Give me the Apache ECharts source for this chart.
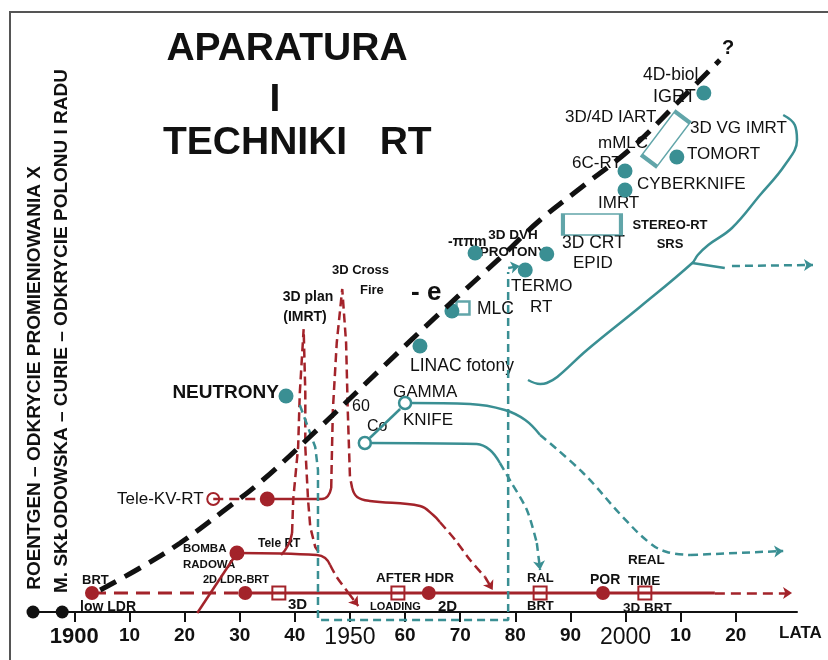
<!DOCTYPE html>
<html>
<head>
<meta charset="utf-8">
<script src="https://cdn.jsdelivr.net/npm/echarts@6/dist/echarts.min.js"></script>
<style>
  html, body { margin: 0; background: #fff; }
  #chart { width: 828px; height: 660px; }
</style>
</head>
<body>
<div id="chart"></div>
<script>
const RED = '#a3232a';
const TEAL = '#3a8f93';
const INK = '#111';
const FONT = '"Liberation Sans", Arial, sans-serif';

// x = year, y = height above the time axis (arbitrary units)
const tickYears = [1900, 1910, 1920, 1930, 1940, 1950, 1960, 1970, 1980, 1990, 2000, 2010, 2020];
const tickNames = ['1900', '10', '20', '30', '40', '1950', '60', '70', '80', '90', '2000', '10', '20'];

const discoveries = [[1892.5, 0], [1897.8, 0]];

const trend = [[1904.7, 22], [1911.9, 44], [1919.2, 69], [1926.8, 100], [1934.2, 132], [1944.6, 185],
  [1955.4, 242], [1966.9, 302], [1977.8, 357], [1984.5, 392], [1992.3, 426], [2001.3, 465],
  [2009.9, 512], [2017.1, 552]];

// teal: physics / hardware
const tealDotNames = ['NEUTRONY', 'LINAC fotony', 'MLC', '-ππm', 'PROTONY', 'TERMO RT', '6C-RT', 'CYBERKNIFE', 'TOMORT', 'IGRT'];
const tealDots = [[1938.4, 216], [1962.7, 266], [1968.5, 301], [1972.7, 359], [1985.7, 358], [1981.8, 342],
  [1999.9, 441], [1999.9, 422], [2009.3, 455], [2014.2, 519]];
const tealRings = [[1952.7, 169], [1960.0, 209]]; // Co-60, Gamma Knife
const tealBoxes = [[1970.5, 304], [1993.9, 387.5], [2007.3, 473]]; // MLC, 3D CRT, 3D VG IMRT

const coLink = [[1953.6, 174], [1959.1, 203]];
const coSolid = [[1953.6, 169], [1973.0, 168], [1975.4, 162], [1977.2, 149]];
const coDashed = [[1977.2, 149], [1979.0, 132], [1982.1, 102], [1983.9, 69]];
const gammaSolid = [[1960.9, 209], [1971.8, 208], [1978.1, 202], [1981.8, 192], [1984.5, 177]];
const gammaDashed = [[1984.5, 177], [1992.3, 139], [1999.5, 95], [2004.4, 69], [2007.5, 60], [2011.7, 57]];
const neutronPath = [[1940.9, 207], [1943.7, 165], [1944.2, 142], [1944.2, -8], [1978.7, -8], [1978.7, 340]];
const brace = [[2028.6, 497], [2030.7, 487], [2031.1, 472], [2028.9, 447], [2024.4, 417], [2019.3, 384],
  [2015.0, 367], [2013.1, 357], [2012.1, 349], [2002.6, 305], [1993.0, 262], [1987.6, 235],
  [1985.7, 229], [1984.5, 228], [1982.3, 232]];
const braceStub = [[2012.1, 349], [2018.0, 344]];
const tealArrows = [
  [[1983.9, 69], [1984.5, 42]],
  [[2011.7, 57], [2028.6, 61]],
  [[1978.7, 344], [1980.8, 346]],
  [[2019.3, 346], [2034.0, 347]]
];

// red: brachytherapy / teletherapy
const baseDashed = [[1903.2, 19], [1931.0, 19]];
const baseSolid = [[1931.0, 19], [2016.2, 19]];
const baseDots = [[1903.2, 19], [1931.0, 19], [1964.3, 19], [1995.9, 19]];
const baseSquares = [[1937.1, 19], [1958.7, 19], [1984.5, 19], [2003.5, 19]];
const bombaDiag = [[1922.3, -1], [1929.5, 59]];
const bombaSolid = [[1929.5, 59], [1944.0, 57], [1945.5, 54], [1946.4, 47]];
const bombaDashed = [[1946.4, 47], [1947.6, 35], [1949.6, 20]];
const redDots = [[1929.5, 59], [1935.0, 113]];
const teleKvRing = [[1925.2, 113]];
const teleKvDashed = [[1925.2, 113], [1935.0, 113]];
const teleKvSolid = [[1935.0, 113], [1944.9, 113], [1946.0, 116], [1946.6, 124]];
const crossFire = [[1946.6, 124], [1946.7, 152], [1946.9, 202], [1947.6, 269], [1948.6, 323],
  [1949.3, 269], [1949.6, 202], [1950.0, 135], [1950.4, 124]];
const crossSolid = [[1950.4, 124], [1951.3, 115], [1953.6, 111], [1962.7, 106], [1965.1, 97], [1966.3, 90]];
const crossDashed = [[1966.3, 90], [1969.1, 72], [1971.8, 52], [1974.5, 35]];
const planSpike = [[1939.5, 79], [1939.7, 112], [1940.6, 165], [1940.9, 219], [1941.6, 283],
  [1941.9, 219], [1941.9, 165], [1942.4, 112], [1942.8, 85], [1943.7, 65], [1944.6, 58]];
const planJoin = [[1939.5, 79], [1938.8, 67], [1937.5, 57]];
const redArrows = [
  [[2016.2, 19], [2030.2, 19]],
  [[1949.6, 20], [1951.5, 6]],
  [[1974.5, 35], [1975.9, 22]]
];

function path(data, color, width, type, smooth) {
  return {
    type: 'line', data: data, symbol: 'none', showSymbol: false, clip: false, silent: true,
    smooth: smooth || false,
    lineStyle: { color: color, width: width, type: type || 'solid', cap: 'butt' }
  };
}

function marks(data, symbol, size, fill, stroke, bw) {
  return {
    type: 'scatter', data: data, symbol: symbol, symbolSize: size, clip: false, silent: true,
    itemStyle: { color: fill, borderColor: stroke || fill, borderWidth: bw || 0, opacity: 1 }
  };
}

function arrows(list, color, width, dash) {
  return {
    type: 'lines', coordinateSystem: 'cartesian2d', clip: false, silent: true,
    symbol: ['none', 'arrow'], symbolSize: 9,
    data: list.map(c => ({ coords: c })),
    lineStyle: { color: color, width: width, type: dash, opacity: 1, curveness: 0 }
  };
}

function txt(text, x, y, size, bold, align) {
  return {
    type: 'text', x: x, y: y, silent: true,
    style: {
      text: text, fill: INK, align: align || 'left', verticalAlign: 'middle',
      font: (bold ? 'bold ' : '') + size + 'px ' + FONT
    }
  };
}

const boxSizes = [[13, 13], [58, 21], [55, 19]];
const boxTurns = [0, 0, 53];

const chart = echarts.init(document.getElementById('chart'));
chart.setOption({
  animation: false,
  backgroundColor: '#fff',
  grid: { left: 33, right: 31, top: 12, bottom: 48, outerBoundsMode: 'none' },
  xAxis: {
    type: 'value', min: 1892.5, max: 2031.1,
    axisLine: { lineStyle: { color: INK, width: 2 } },
    axisTick: { show: true, customValues: tickYears, length: 10, lineStyle: { color: INK, width: 2 } },
    axisLabel: {
      customValues: tickYears, margin: 14, color: INK, fontFamily: FONT,
      formatter: function (v) {
        const s = tickNames[tickYears.indexOf(v)];
        if (v === 1900) return '{a|' + s + '}';
        if (v === 1950 || v === 2000) return '{b|' + s + '}';
        return '{c|' + s + '}';
      },
      rich: {
        a: { fontSize: 22, fontWeight: 'bold', fontFamily: FONT, color: INK },
        b: { fontSize: 23, fontFamily: FONT, color: INK },
        c: { fontSize: 19, fontWeight: 'bold', fontFamily: FONT, color: INK }
      }
    },
    splitLine: { show: false },
    name: 'LATA', nameLocation: 'end', nameGap: -18,
    nameTextStyle: { color: INK, fontSize: 17, fontWeight: 'bold', fontFamily: FONT, align: 'left', verticalAlign: 'top', padding: [13, 0, 0, 0] }
  },
  yAxis: { type: 'value', min: 0, max: 600, show: false },
  graphic: [
    { type: 'polyline', silent: true, shape: { points: [[10, 660], [10, 12], [828, 12]] }, style: { stroke: '#555', lineWidth: 2, fill: null } },
    txt('APARATURA', 287, 49, 39, true, 'center'),
    txt('I', 275, 100, 39, true, 'center'),
    txt('TECHNIKI   RT', 163, 143, 39, true, 'left'),
    Object.assign(txt('ROENTGEN – ODKRYCIE PROMIENIOWANIA X', 35, 378, 19, true, 'center'), { rotation: Math.PI / 2 }),
    Object.assign(txt('M. SKŁODOWSKA – CURIE – ODKRYCIE POLONU I RADU', 62, 331, 19, true, 'center'), { rotation: Math.PI / 2 }),
    txt('?', 728, 48, 20, true, 'center'),
    txt('NEUTRONY', 279, 393, 19, true, 'right'),
    txt('LINAC fotony', 410, 366, 17.5, false),
    txt('MLC', 477, 309, 17.5, false),
    txt('- e', 411, 293, 26, true),
    txt('-ππm', 448, 242, 14, true),
    txt('3D DVH', 513, 235, 13.5, true, 'center'),
    txt('PROTONY', 513, 252, 13.5, true, 'center'),
    txt('TERMO', 511, 286, 17, false),
    txt('RT', 530, 307, 17, false),
    txt('3D CRT', 562, 243, 17.5, false),
    txt('EPID', 573, 263, 17, false),
    txt('STEREO-RT', 670, 225, 13, true, 'center'),
    txt('SRS', 670, 244, 13, true, 'center'),
    txt('IMRT', 598, 203, 17, false),
    txt('CYBERKNIFE', 637, 184, 17, false),
    txt('6C-RT', 572, 163, 17, false),
    txt('mMLC', 598, 143, 17, false),
    txt('TOMORT', 687, 154, 17, false),
    txt('3D VG IMRT', 690, 128, 17, false),
    txt('3D/4D IART', 565, 117, 17, false),
    txt('4D-biol', 643, 75, 17.5, false),
    txt('IGRT', 653, 97, 18, false),
    txt('GAMMA', 393, 392, 17, false),
    txt('KNIFE', 403, 420, 17, false),
    txt('Co', 367, 427, 16, false),
    txt('60', 352, 407, 16, false),
    txt('3D Cross', 332, 270, 13, true),
    txt('Fire', 360, 290, 13, true),
    txt('3D plan', 308, 297, 14, true, 'center'),
    txt('(IMRT)', 305, 317, 14, true, 'center'),
    txt('Tele-KV-RT', 117, 499, 17, false),
    txt('BOMBA', 183, 549, 11.5, true),
    txt('RADOWA', 183, 565, 11.5, true),
    txt('Tele RT', 258, 544, 12, true),
    txt('2D LDR-BRT', 203, 580, 11, true),
    txt('BRT', 82, 580, 13, true),
    txt('low LDR', 80, 607, 14, true),
    txt('3D', 288, 605, 15, true),
    txt('LOADING', 370, 607, 11, true),
    txt('AFTER HDR', 376, 578, 13.5, true),
    txt('2D', 438, 607, 15, true),
    txt('RAL', 527, 578, 13, true),
    txt('BRT', 527, 606, 13, true),
    txt('POR', 590, 580, 14, true),
    txt('REAL', 628, 560, 13.5, true),
    txt('TIME', 628, 581, 13.5, true),
    txt('3D BRT', 623, 608, 13.5, true)
  ],
  series: [
    // red lines
    path(baseDashed, RED, 3, [14, 8]),
    path(baseSolid, RED, 3),
    path(bombaDiag, RED, 2.5),
    path(bombaSolid, RED, 2.5, 'solid', 0.4),
    path(bombaDashed, RED, 2.5, [9, 5], 0.3),
    path(teleKvDashed, RED, 2.5, [10, 6]),
    path(teleKvSolid, RED, 2.5, 'solid', 0.4),
    path(crossFire, RED, 2.5, [9, 5]),
    path(crossSolid, RED, 2.5, 'solid', 0.4),
    path(crossDashed, RED, 2.5, [9, 5], 0.3),
    path(planSpike, RED, 2.5, [9, 5]),
    path(planJoin, RED, 2.5, 'solid', 0.5),
    arrows(redArrows, RED, 2.5, [10, 6]),
    // teal lines
    path(coLink, TEAL, 2.5),
    path(coSolid, TEAL, 2.5, 'solid', 0.4),
    path(coDashed, TEAL, 2.5, [8, 5], 0.3),
    path(gammaSolid, TEAL, 2.5, 'solid', 0.4),
    path(gammaDashed, TEAL, 2.5, [8, 5], 0.4),
    path(neutronPath, TEAL, 2.5, [8, 5]),
    path(brace, TEAL, 2.5, 'solid', 0.4),
    path(braceStub, TEAL, 2.5),
    arrows(tealArrows, TEAL, 2.5, [8, 5]),
    // trend
    path(trend, INK, 5, [18, 10], 0.4),
    // markers
    marks(discoveries, 'circle', 13, INK),
    marks(baseDots, 'circle', 14, RED),
    marks(redDots, 'circle', 15, RED),
    marks(baseSquares, 'rect', 13, '#fff', RED, 2),
    marks(teleKvRing, 'circle', 12, '#fff', RED, 2),
    Object.assign(marks(tealDots, 'circle', 15, TEAL), { name: 'techniki' }),
    marks(tealRings, 'circle', 12, '#fff', TEAL, 2.5),
    {
      type: 'scatter', clip: false, silent: true, symbol: 'rect',
      data: tealBoxes.map((v, i) => ({ value: v, symbolSize: boxSizes[i], symbolRotate: boxTurns[i] })),
      itemStyle: { color: 'rgba(255,255,255,0)', borderColor: TEAL, borderWidth: 2.5 }
    }
  ]
});
</script>
</body>
</html>
